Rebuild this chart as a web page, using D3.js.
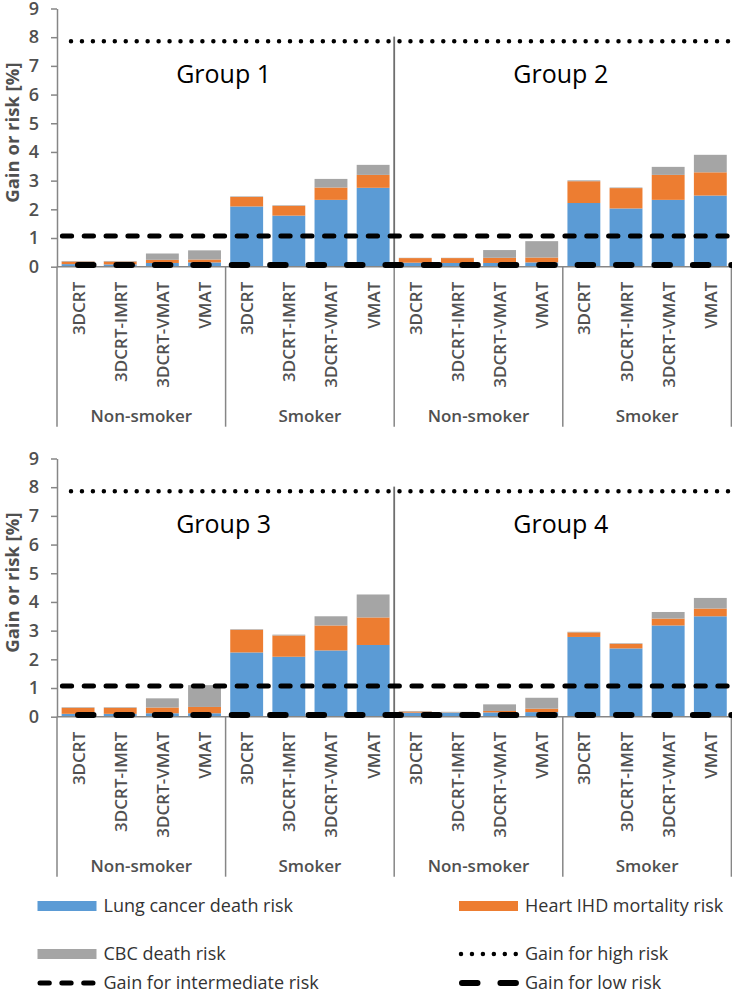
<!DOCTYPE html>
<html>
<head>
<meta charset="utf-8">
<script src="https://cdn.jsdelivr.net/npm/d3@7"></script>
<style>
  html, body { margin: 0; padding: 0; background: #fff; }
  svg { display: block; font-family: "Open Sans", "DejaVu Sans", sans-serif; }
</style>
</head>
<body>
<svg id="chart" width="732" height="995"></svg>
<script>
// ---------------- DATA ----------------
const techniques = ["3DCRT", "3DCRT-IMRT", "3DCRT-VMAT", "VMAT"];
const smokerStatus = ["Non-smoker", "Smoker"];
const groupNames = ["Group 1", "Group 2", "Group 3", "Group 4"];
const seriesNames = ["Lung cancer death risk", "Heart IHD mortality risk", "CBC death risk"];
const yTicks = [0, 1, 2, 3, 4, 5, 6, 7, 8, 9];

// order per group: Non-smoker (4 techniques), then Smoker (4 techniques)
const lungRisk = [
  [0.09, 0.08, 0.13, 0.15, 2.10, 1.78, 2.33, 2.75],
  [0.14, 0.13, 0.13, 0.15, 2.22, 2.03, 2.33, 2.48],
  [0.10, 0.10, 0.12, 0.12, 2.24, 2.09, 2.31, 2.50],
  [0.14, 0.14, 0.15, 0.16, 2.78, 2.38, 3.18, 3.50]
];
const heartRisk = [
  [0.09, 0.10, 0.11, 0.10, 0.33, 0.34, 0.43, 0.45],
  [0.16, 0.17, 0.18, 0.17, 0.76, 0.71, 0.87, 0.81],
  [0.21, 0.21, 0.20, 0.22, 0.79, 0.74, 0.87, 0.96],
  [0.04, 0.01, 0.05, 0.12, 0.16, 0.16, 0.24, 0.27]
];
const cbcRisk = [
  [0.02, 0.02, 0.22, 0.32, 0.02, 0.02, 0.30, 0.35],
  [0.01, 0.01, 0.27, 0.57, 0.03, 0.02, 0.28, 0.61],
  [0.02, 0.02, 0.32, 0.76, 0.02, 0.03, 0.32, 0.80],
  [0.02, 0.02, 0.23, 0.38, 0.02, 0.02, 0.23, 0.37]
];
const gainHighRisk = 7.86;
const gainIntermediateRisk = 1.07;
const gainLowRisk = 0.06;

// ---------------- STYLE / LAYOUT ----------------
const colors = { lung: "#5b9bd5", heart: "#ed7d31", cbc: "#a5a5a5" };
const axisColor = "#868686";
const labelColor = "#505050";
const plotLeft = 57, plotRight = 731.4;
const panels = [
  { groups: [0, 1], top: 8.5, bottom: 266.7 },
  { groups: [2, 3], top: 458.5, bottom: 716.7 }
];

const svg = d3.select("#chart");

const highStyle = { width: 4.5, dash: "0 10.95", offset: 0 };
const interStyle = { width: 5, dash: "9.3 12.55", offset: 16.5 };
const lowStyle = { width: 6, dash: "15.5 22.93", offset: 17.43 };

panels.forEach(p => {
  const g = svg.append("g");
  const rows = [];
  p.groups.forEach((gi, k) => {
    for (let j = 0; j < 8; j++) {
      rows.push({
        idx: k * 8 + j,
        tech: techniques[j % 4],
        lung: lungRisk[gi][j],
        heart: heartRisk[gi][j],
        cbc: cbcRisk[gi][j]
      });
    }
  });

  const x = d3.scaleBand().domain(d3.range(16)).range([plotLeft, plotRight])
    .paddingInner(0.22).paddingOuter(0.11);
  const y = d3.scaleLinear().domain([0, 9]).range([p.bottom, p.top]);
  const step = x.step();

  // stacked bars
  const stack = d3.stack().keys(["lung", "heart", "cbc"]);
  const layers = stack(rows);
  g.selectAll("g.layer").data(layers).join("g")
    .attr("class", "layer")
    .attr("fill", d => colors[d.key])
    .selectAll("rect").data(d => d).join("rect")
    .attr("x", d => x(d.data.idx))
    .attr("width", x.bandwidth())
    .attr("y", d => y(d[1]))
    .attr("height", d => Math.max(0, y(d[0]) - y(d[1])));

  // y axis
  const yAxis = d3.axisLeft(y).tickValues(yTicks).tickSize(6).tickSizeOuter(0).tickPadding(12);
  const ya = g.append("g").attr("transform", `translate(${plotLeft},0)`).call(yAxis);
  ya.select(".domain").attr("stroke", axisColor).attr("stroke-width", 1.5);
  ya.selectAll(".tick line").attr("stroke", axisColor).attr("stroke-width", 1.5);
  ya.selectAll(".tick text").attr("fill", labelColor).attr("font-size", 18)
    .attr("font-weight", 600).attr("font-family", "Open Sans");

  // x axis baseline
  g.append("line").attr("x1", plotLeft).attr("x2", plotRight)
    .attr("y1", y(0)).attr("y2", y(0)).attr("stroke", axisColor).attr("stroke-width", 1.5);

  // category separators (multi-level axis)
  d3.range(5).forEach(k => {
    const sx = plotLeft + k * 4 * step;
    g.append("line").attr("x1", sx).attr("x2", sx)
      .attr("y1", y(0)).attr("y2", y(0) + 160)
      .attr("stroke", axisColor).attr("stroke-width", 1.5);
  });

  // category labels
  g.selectAll("text.cat").data(rows).join("text")
    .attr("class", "cat")
    .attr("transform", d => `translate(${x(d.idx) + x.bandwidth() / 2 + 6.5},${y(0) + 15}) rotate(-90)`)
    .attr("text-anchor", "end")
    .attr("font-size", 17)
    .attr("font-weight", 600)
    .attr("fill", labelColor)
    .text(d => d.tech);

  // smoker labels
  d3.range(4).forEach(k => {
    g.append("text")
      .attr("x", plotLeft + (2 + 4 * k) * step)
      .attr("y", y(0) + 155)
      .attr("text-anchor", "middle")
      .attr("font-size", 17)
      .attr("font-weight", 600)
      .attr("fill", labelColor)
      .text(smokerStatus[k % 2]);
  });

  // y axis title
  g.append("text")
    .attr("transform", `translate(19,${(p.top + p.bottom) / 2 - 5}) rotate(-90)`)
    .attr("text-anchor", "middle")
    .attr("font-size", 18.5)
    .attr("font-weight", "bold")
    .attr("fill", labelColor)
    .text("Gain or risk [%]");

  // group divider
  const midX = plotLeft + 8 * step;
  g.append("line").attr("x1", midX).attr("x2", midX)
    .attr("y1", y(8.02)).attr("y2", y(0))
    .attr("stroke", "#6e6e6e").attr("stroke-width", 1.8);

  // group titles
  p.groups.forEach((gi, k) => {
    g.append("text")
      .attr("x", plotLeft + (4 + 8 * k) * step - 2)
      .attr("y", p.top + 74)
      .attr("text-anchor", "middle")
      .attr("font-size", 25)
      .attr("fill", "#000")
      .text(groupNames[gi]);
  });

  // reference lines
  const refLine = (val, st, x1, x2) => {
    g.append("line").attr("x1", x1).attr("x2", x2)
      .attr("y1", y(val)).attr("y2", y(val))
      .attr("stroke", "#000").attr("stroke-width", st.width)
      .attr("stroke-linecap", "round")
      .attr("stroke-dasharray", st.dash)
      .attr("stroke-dashoffset", st.offset);
  };
  refLine(gainHighRisk, highStyle, plotLeft + 14, plotRight - 2);
  refLine(gainIntermediateRisk, interStyle, plotLeft, plotRight);
  refLine(gainLowRisk, lowStyle, plotLeft, plotRight);
});

// ---------------- LEGEND ----------------
const lg = svg.append("g");
const legendItems = [
  { type: "rect", color: colors.lung, label: seriesNames[0], col: 0, row: 0 },
  { type: "rect", color: colors.heart, label: seriesNames[1], col: 1, row: 0 },
  { type: "rect", color: colors.cbc, label: seriesNames[2], col: 0, row: 1 },
  { type: "line", st: highStyle, label: "Gain for high risk", col: 1, row: 1 },
  { type: "line", st: interStyle, label: "Gain for intermediate risk", col: 0, row: 2 },
  { type: "line", st: lowStyle, label: "Gain for low risk", col: 1, row: 2 }
];
const colX = [37.5, 459];
const rowY = [906, 954, 983];
legendItems.forEach(it => {
  const lx = colX[it.col], ly = rowY[it.row];
  if (it.type === "rect") {
    lg.append("rect").attr("x", lx).attr("y", ly - 5).attr("width", 59).attr("height", 10)
      .attr("fill", it.color);
  } else {
    const isDot = it.st === highStyle;
    lg.append("line")
      .attr("x1", lx + (isDot ? 2 : it.st.width / 2)).attr("x2", lx + 59)
      .attr("y1", ly).attr("y2", ly)
      .attr("stroke", "#000").attr("stroke-width", it.st.width)
      .attr("stroke-linecap", "round")
      .attr("stroke-dasharray", it.st.dash);
  }
  lg.append("text").attr("x", lx + 66).attr("y", ly + 6.3)
    .attr("font-size", 18).attr("fill", "#333")
    .text(it.label);
});
</script>
</body>
</html>
